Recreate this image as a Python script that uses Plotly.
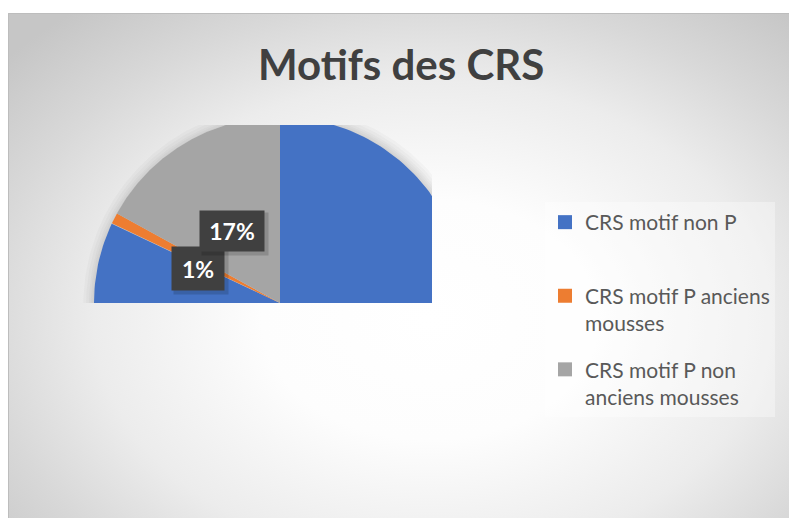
import numpy as np
import plotly.graph_objects as go

# ---- data ----
categories = ["CRS motif non P", "CRS motif P anciens mousses", "CRS motif P non anciens mousses"]
legend_labels = ["CRS motif non P<br>\u00a0", "CRS motif P anciens<br>mousses", "CRS motif P non<br>anciens mousses"]
values = [82, 1, 17]
colors = ["#4472C4", "#ED7D31", "#A5A5A5"]
title_text = "Motifs des CRS"

W, H = 789, 518
FONT = "Lato"

fig = go.Figure()

# ---- background (radial gradient) on subplot xy ----
gx, gy, gax, gay = 430, 320, 560, 400
fig.add_trace(go.Scatter(
    x=[gx - gax, gx + gax, gx + gax, gx - gax, gx - gax],
    y=[gy - gay, gy - gay, gy + gay, gy + gay, gy - gay],
    mode="lines", line=dict(width=0), fill="toself",
    fillgradient=dict(type="radial",
                      colorscale=[[0, "#ffffff"], [0.3, "#fdfdfd"], [0.6, "#ececec"],
                                  [0.8, "#d8d8d8"], [1, "#c6c6c6"]]),
    hoverinfo="skip", showlegend=False, xaxis="x", yaxis="y"))

# ---- pie wedges on subplot x2y2 (clipped by the axis ranges) ----
R_PX = 186.0
cx_px, cy_px = 280.0, 303.0
px0, px1, py0, py1 = 68.0, 432.0, 125.0, 303.0
total = float(sum(values))

# soft shadow around the pie
th_s = np.radians(np.linspace(0, 180, 200))
for k in [1.07, 1.055, 1.04, 1.03, 1.02, 1.01]:
    fig.add_trace(go.Scatter(x=np.concatenate([[0.0], k * np.cos(th_s) + 0.012, [0.0]]),
                             y=np.concatenate([[0.0], k * np.sin(th_s) - 0.012, [0.0]]),
                             mode="lines", line=dict(width=0), fill="toself",
                             fillcolor="rgba(0,0,0,0.022)", hoverinfo="skip",
                             showlegend=False, xaxis="x2", yaxis="y2"))

cum = 0.0
label_pos = []
for cat, v, col in zip(categories, values, colors):
    a0 = 90.0 - 360.0 * cum / total
    a1 = 90.0 - 360.0 * (cum + v) / total
    th = np.radians(np.linspace(a0, a1, 200))
    xs = np.concatenate([[0.0], np.cos(th), [0.0]])
    ys = np.concatenate([[0.0], np.sin(th), [0.0]])
    fig.add_trace(go.Scatter(x=xs, y=ys, mode="lines", line=dict(width=0),
                             fill="toself", fillcolor=col, name=cat,
                             hoverinfo="skip", showlegend=False,
                             xaxis="x2", yaxis="y2"))
    mid = np.radians((a0 + a1) / 2.0)
    label_pos.append((0.47 * np.cos(mid), 0.47 * np.sin(mid), v / total))
    cum += v

# legend entries
for i, (lab, col) in enumerate(zip(legend_labels, colors)):
    fig.add_trace(go.Scatter(x=[None], y=[None], mode="markers", name=lab,
                             legendgroup=f"g{i}",
                             marker=dict(symbol="square", size=14, color=col),
                             xaxis="x2", yaxis="y2"))

x2range = [(px0 - cx_px) / R_PX, (px1 - cx_px) / R_PX]
y2range = [0.0, (py1 - py0) / R_PX]

annotations = []
shifts = {1: (-4, -5), 17: (-4, -3)}
for (lx, ly, frac), v in zip(label_pos, values):
    if not (x2range[0] <= lx <= x2range[1] and y2range[0] <= ly <= y2range[1]):
        continue
    txt = f"{round(frac * 100)}%"
    w = 62 if len(txt) > 2 else 50
    h = 38 if len(txt) > 2 else 41
    sx, sy = shifts.get(v, (0, 0))
    annotations.append(dict(x=lx, y=ly, xref="x2", yref="y2", text=" ", showarrow=False,
                            width=w + 2, height=h + 2, bgcolor="rgba(0,0,0,0.15)",
                            xshift=sx + 3, yshift=sy - 3, font=dict(size=22, family=FONT)))
    annotations.append(dict(x=lx, y=ly, xref="x2", yref="y2", text=f"<b>{txt}</b>",
                            showarrow=False, width=w, height=h, bgcolor="#404040",
                            xshift=sx, yshift=sy,
                            font=dict(size=23, family=FONT, color="#ffffff")))

annotations.append(dict(x=401 / W, y=1 - 64 / H, xref="paper", yref="paper",
                        text=f"<b>{title_text}</b>", showarrow=False,
                        xanchor="center", yanchor="middle",
                        font=dict(size=42, family=FONT, color="#404040")))

fig.update_layout(
    width=W, height=H, margin=dict(l=0, r=0, t=0, b=0),
    paper_bgcolor="#ffffff", plot_bgcolor="rgba(0,0,0,0)",
    xaxis=dict(domain=[8 / W, 1], range=[8, W], visible=False, fixedrange=True),
    yaxis=dict(domain=[0, 1 - 13 / H], range=[H, 13], visible=False, fixedrange=True),
    xaxis2=dict(domain=[px0 / W, px1 / W], range=x2range, visible=False, fixedrange=True),
    yaxis2=dict(domain=[1 - py1 / H, 1 - py0 / H], range=y2range, visible=False, fixedrange=True),
    showlegend=True,
    legend=dict(x=545 / W, y=1 - 202 / H, xanchor="left", yanchor="top",
                bgcolor="rgba(255,255,255,0.35)", valign="top", tracegroupgap=16,
                font=dict(size=21, family=FONT, color="#595959")),
    annotations=annotations,
    shapes=[dict(type="rect", xref="paper", yref="paper", x0=8.5 / W, x1=1.2,
                 y0=-0.2, y1=1 - 13.5 / H, line=dict(color="#bdbdbd", width=1))],
)

fig.write_html("out.html", config={"displayModeBar": False},
               post_script="document.body.style.margin='0';")
